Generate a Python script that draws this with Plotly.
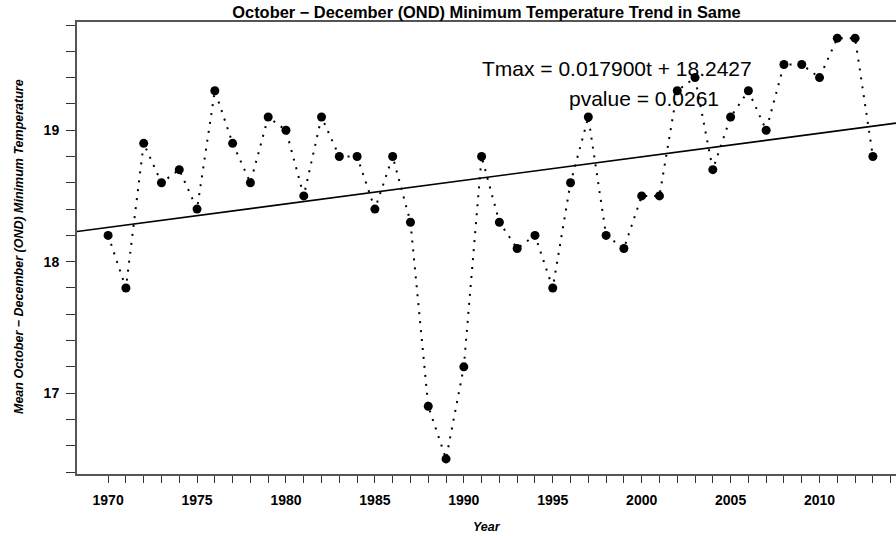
import plotly.graph_objects as go

# ---- data ----
years = list(range(1970, 2014))
tmin_ond = [18.2, 17.8, 18.9, 18.6, 18.7, 18.4, 19.3, 18.9, 18.6, 19.1,
            19.0, 18.5, 19.1, 18.8, 18.8, 18.4, 18.8, 18.3, 16.9, 16.5,
            17.2, 18.8, 18.3, 18.1, 18.2, 17.8, 18.6, 19.1, 18.2, 18.1,
            18.5, 18.5, 19.3, 19.4, 18.7, 19.1, 19.3, 19.0, 19.5, 19.5,
            19.4, 19.7, 19.7, 18.8]

trend_slope = 0.017900
trend_intercept = 18.2427
trend_origin_year = 1969  # t = year - 1969

x_range = [1968.25, 2014.3]
y_range = [16.385, 19.823]

x_tick_vals = list(range(1970, 2015))
x_tick_text = [str(y) if y % 5 == 0 else "" for y in x_tick_vals]
y_tick_vals = [16.4, 16.6, 16.8, 17.0, 17.2, 17.4, 17.6, 17.8, 18.0, 18.2,
               18.4, 18.6, 18.8, 19.0, 19.2, 19.4, 19.6, 19.8]
y_tick_text = ["17" if abs(v - 17) < 1e-9 else "18" if abs(v - 18) < 1e-9
               else "19" if abs(v - 19) < 1e-9 else "" for v in y_tick_vals]

title_text = "October − December (OND) Minimum Temperature Trend in Same"
y_title = "Mean October − December (OND) Minimum Temperature"
x_title = "Year"
eq_text = "Tmax = 0.017900t + 18.2427"
p_text = "pvalue = 0.0261"

FONT = "Liberation Sans, Arial, Helvetica, sans-serif"

fig = go.Figure()

# regression line across the full plotting range
trend_x = x_range
trend_y = [trend_intercept + trend_slope * (x - trend_origin_year) for x in trend_x]
fig.add_trace(go.Scatter(x=trend_x, y=trend_y, mode="lines",
                         line=dict(color="black", width=1.6),
                         hoverinfo="skip", showlegend=False))

# observed series: dotted line with filled points
fig.add_trace(go.Scatter(x=years, y=tmin_ond, mode="lines+markers",
                         line=dict(color="black", width=2, dash="2px,7px"),
                         marker=dict(color="black", size=9),
                         showlegend=False))

fig.update_layout(
    width=896, height=536,
    margin=dict(l=77, r=0, t=22, b=62),
    paper_bgcolor="white", plot_bgcolor="white",
    font=dict(family=FONT, color="black"),
    title=dict(text="<b>" + title_text + "</b>", x=0.5, xref="paper",
               y=1 - 12 / 536, yref="container", xanchor="center", yanchor="middle",
               font=dict(size=16.4, family=FONT, color="black")),
    showlegend=False,
)

fig.update_xaxes(
    range=x_range, showgrid=False, zeroline=False,
    showline=True, linecolor="#555", linewidth=2, mirror=True,
    ticks="outside", ticklen=7, tickwidth=1, tickcolor="#333",
    tickvals=x_tick_vals, ticktext=x_tick_text,
    tickfont=dict(size=14, family=FONT, color="black", weight="bold"),
    ticklabelstandoff=5,
)
fig.update_yaxes(
    range=y_range, showgrid=False, zeroline=False,
    showline=True, linecolor="#555", linewidth=2, mirror=False,
    ticks="outside", ticklen=9, tickwidth=1, tickcolor="#333",
    tickvals=y_tick_vals, ticktext=y_tick_text,
    tickfont=dict(size=14, family=FONT, color="black", weight="bold"),
    ticklabelstandoff=4,
)

fig.add_annotation(text="<b><i>" + y_title + "</i></b>", xref="paper", yref="paper",
                   x=(19 - 77) / 819, y=(474 - 247) / 452, textangle=-90,
                   showarrow=False, xanchor="center", yanchor="middle",
                   font=dict(size=12.5, family=FONT, color="black"))
fig.add_annotation(text="<b><i>" + x_title + "</i></b>", xref="paper", yref="paper",
                   x=0.5, y=(474 - 527) / 452,
                   showarrow=False, xanchor="center", yanchor="middle",
                   font=dict(size=12.5, family=FONT, color="black"))
fig.add_annotation(text=eq_text, xref="paper", yref="paper",
                   x=(617 - 77) / 819, y=(474 - 68) / 452,
                   showarrow=False, xanchor="center", yanchor="middle",
                   font=dict(size=21, family=FONT, color="black"))
fig.add_annotation(text=p_text, xref="paper", yref="paper",
                   x=(644 - 77) / 819, y=(474 - 98) / 452,
                   showarrow=False, xanchor="center", yanchor="middle",
                   font=dict(size=21, family=FONT, color="black"))

fig.write_html("out.html",
               config={"displayModeBar": False},
               post_script="document.body.style.margin='0';document.body.style.padding='0';")
